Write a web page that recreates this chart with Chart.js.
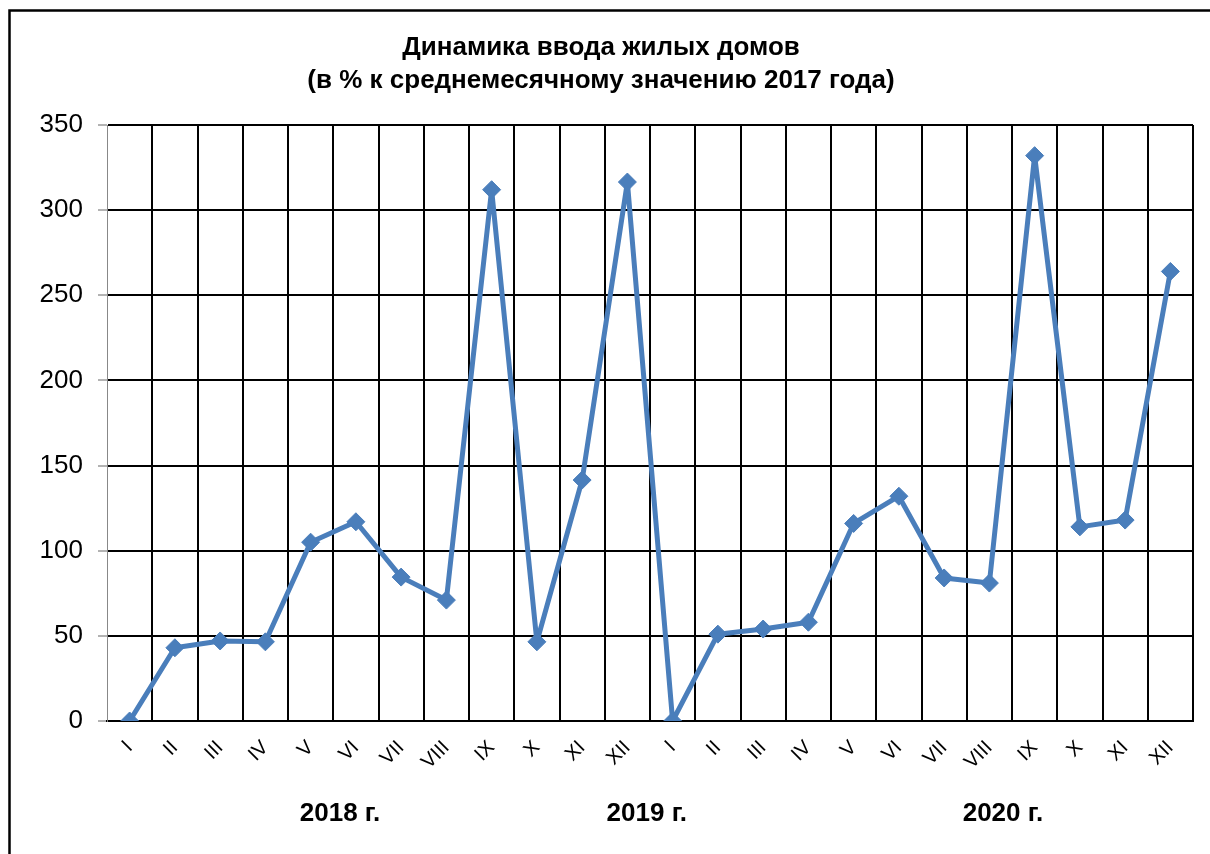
<!DOCTYPE html>
<html lang="ru">
<head>
    <meta charset="UTF-8">
    <title>Динамика ввода жилых домов</title>
    <script src="https://cdn.jsdelivr.net/npm/chart.js"></script>
    <style>
        body { margin: 0; background: #fff; }
        canvas { display: block; }
    </style>
</head>
<body>
    <canvas id="housingChart" width="1210" height="854"></canvas>
    <script>
        const months = ['I', 'II', 'III', 'IV', 'V', 'VI', 'VII', 'VIII', 'IX', 'X', 'XI', 'XII',
                        'I', 'II', 'III', 'IV', 'V', 'VI', 'VII', 'VIII', 'IX', 'X', 'XI', 'XII'];
        const values = [0, 43, 47, 46.5, 105, 117, 84.5, 71, 312, 46.5, 141.5, 316.5,
                        0, 51, 54, 58, 116, 132, 84, 81, 332, 114, 118, 264];
        const yearLabels = ['2018 г.', '2019 г.', '2020 г.'];
        const yearPositions = [4.65, 11.43, 19.3]; // category index under which each year sits
        const titleLines = ['Динамика ввода жилых домов', '(в % к среднемесячному значению 2017 года)'];

        const font = '"Liberation Sans", Arial, sans-serif';

        // frame, title and year captions
        const decorations = {
            id: 'decorations',
            afterDraw(chart) {
                const ctx = chart.ctx;
                ctx.save();
                ctx.strokeStyle = '#000';
                ctx.lineWidth = 2.5;
                ctx.strokeRect(9.5, 10.5, 1300, 1000);

                ctx.fillStyle = '#000';
                ctx.textAlign = 'center';
                ctx.textBaseline = 'middle';
                ctx.font = 'bold 26px ' + font;
                ctx.fillText(titleLines[0], 601, 48);
                ctx.fillText(titleLines[1], 601, 81);

                const x = chart.scales.x;
                yearLabels.forEach((label, i) => {
                    ctx.fillText(label, x.getPixelForValue(yearPositions[i]), 814);
                });
                ctx.restore();
            }
        };

        new Chart(document.getElementById('housingChart'), {
            type: 'line',
            data: {
                labels: months,
                datasets: [{
                    data: values,
                    borderColor: '#4a7ebb',
                    backgroundColor: '#4a7ebb',
                    borderWidth: 5,
                    borderJoinStyle: 'round',
                    pointStyle: 'rectRot',
                    pointRadius: 9,
                    pointHoverRadius: 9,
                    pointBorderWidth: 1,
                    tension: 0
                }]
            },
            options: {
                responsive: false,
                animation: false,
                layout: { padding: { left: 10, right: 17, top: 125, bottom: 0 } },
                plugins: {
                    legend: { display: false },
                    tooltip: { enabled: false }
                },
                scales: {
                    x: {
                        offset: true,
                        grid: {
                            offset: true,
                            drawTicks: false,
                            color: ctx => ctx.index === 0 ? '#888' : '#000',
                            lineWidth: ctx => ctx.index === 0 ? 1 : 2
                        },
                        border: { display: true, color: '#000', width: 2 },
                        ticks: {
                            color: '#000',
                            font: { family: font, size: 20 },
                            minRotation: 45,
                            maxRotation: 45,
                            padding: 15,
                            autoSkip: false
                        },
                        afterFit(scale) { scale.height = 133; }
                    },
                    y: {
                        min: 0,
                        max: 350,
                        grid: {
                            color: '#000',
                            lineWidth: 2,
                            tickColor: '#666',
                            tickWidth: 1,
                            tickLength: 9
                        },
                        border: { display: true, color: '#888', width: 1 },
                        ticks: {
                            stepSize: 50,
                            color: '#000',
                            font: { family: font, size: 26 },
                            padding: 15
                        },
                        afterFit(scale) { scale.width = 97; }
                    }
                }
            },
            plugins: [decorations]
        });
    </script>
</body>
</html>
